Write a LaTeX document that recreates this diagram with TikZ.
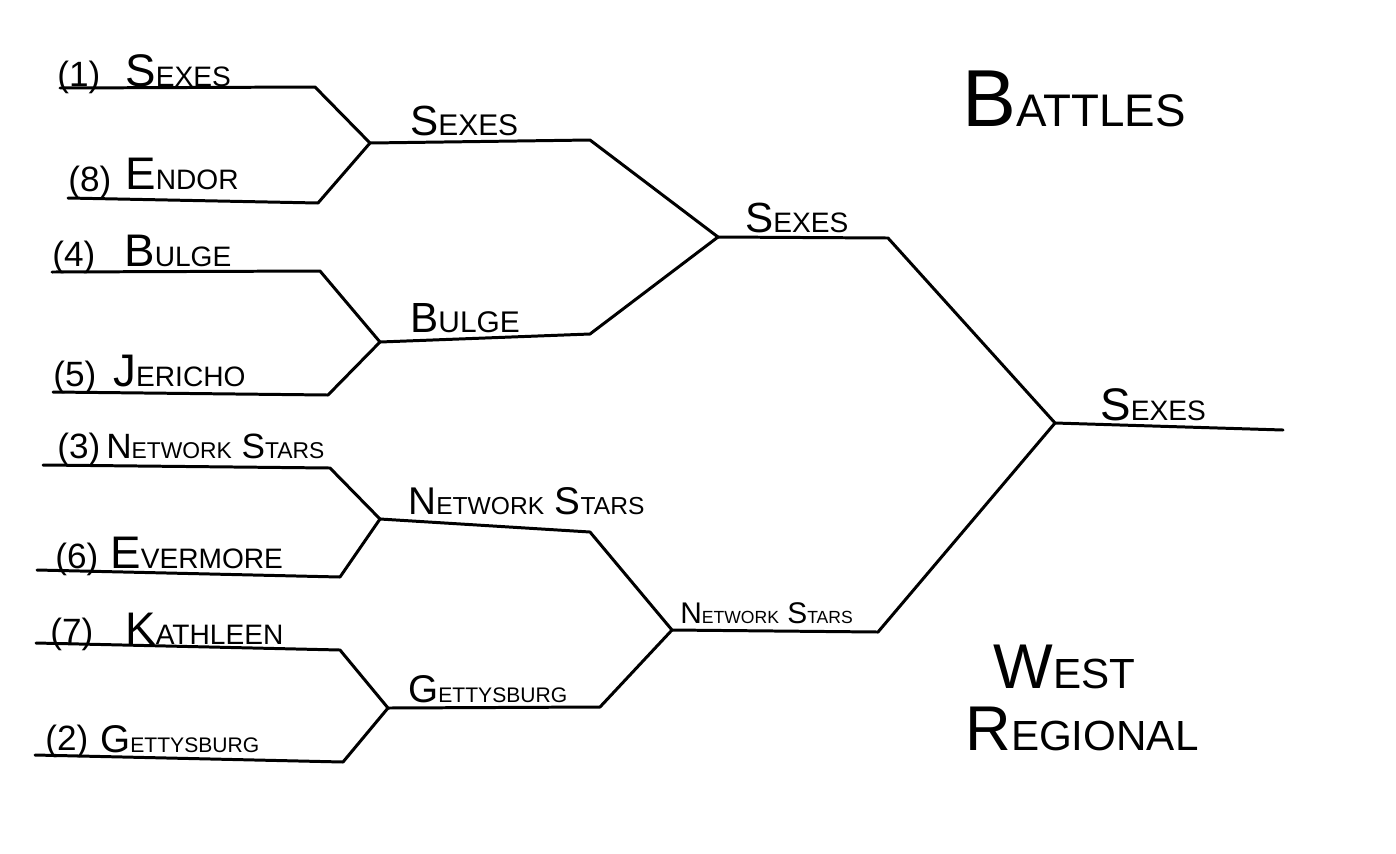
\documentclass[tikz,border=0pt]{standalone}
\usepackage{fontspec}
\setmainfont{Liberation Sans}
\tikzset{
 bracket/.style={line width=1.7pt, line cap=round, line join=round},
 seed/.style={anchor=base west, inner sep=0pt, font=\fontsize{20}{20}\selectfont},
 lab/.style 2 args={anchor=base west, inner sep=0pt,
  font=\fontsize{#1}{#1}\selectfont\def\lowsz{\fontsize{#2}{#2}\selectfont}},
 team/.style={lab={26}{16}},
 winner/.style={lab={24}{17}}
}
\newcommand{\hw}[2]{#1{\lowsz #2}}

\begin{document}
\begin{tikzpicture}[x=0.02cm, y=-0.02cm]
\useasboundingbox (0,0) rectangle (1396,853);

\begin{scope} %1-8
 \coordinate (a1) at (60,88);  \coordinate (b1) at (315,87);
 \coordinate (a8) at (68,198); \coordinate (b8) at (318,203);
 \coordinate (j18) at (370,143);
 \draw[bracket] (a1) -- (b1) -- (j18) -- (b8) -- (a8);
 \node[seed] (p1) at (57,86) {(1)};
 \node[team] (t1) at (125,86) {\hw{S}{EXES}};
 \node[seed] (p8) at (68,191) {(8)};
 \node[team] (t8) at (125,189) {\hw{E}{NDOR}};
\end{scope}

\begin{scope} %4-5
 \coordinate (a4) at (52,272); \coordinate (b4) at (320,271);
 \coordinate (a5) at (53,392); \coordinate (b5) at (328,395);
 \coordinate (j45) at (380,342);
 \draw[bracket] (a4) -- (b4) -- (j45) -- (b5) -- (a5);
 \node[seed] (p4) at (52,266) {(4)};
 \node[team] (t4) at (124,266) {\hw{B}{ULGE}};
 \node[seed] (p5) at (53,386) {(5)};
 \node[team] (t5) at (113,386) {\hw{J}{ERICHO}};
\end{scope}

\begin{scope} %3-6
 \coordinate (a3) at (43,465); \coordinate (b3) at (330,468);
 \coordinate (a6) at (37,570); \coordinate (b6) at (340,577);
 \coordinate (j36) at (380,519);
 \draw[bracket] (a3) -- (b3) -- (j36) -- (b6) -- (a6);
 \node[seed] (p3) at (57,458) {(3)};
 \node[lab={20}{13}] (t3) at (106,458) {\hw{N}{ETWORK} \hw{S}{TARS}};
 \node[seed] (p6) at (55,568) {(6)};
 \node[team] (t6) at (110,568) {\hw{E}{VERMORE}};
\end{scope}

\begin{scope} %7-2
 \coordinate (a7) at (36,643); \coordinate (b7) at (340,650);
 \coordinate (a2) at (35,755); \coordinate (b2) at (343,762);
 \coordinate (j72) at (388,708);
 \draw[bracket] (a7) -- (b7) -- (j72) -- (b2) -- (a2);
 \node[seed] (p7) at (50,643) {(7)};
 \node[team] (t7) at (125,644) {\hw{K}{ATHLEEN}};
 \node[seed] (p2) at (45,750) {(2)};
 \node[lab={22}{12}] (t2) at (100,752) {\hw{G}{ETTYSBURG}};
\end{scope}

\begin{scope} %second round
 \coordinate (c18) at (590,140); \coordinate (c45) at (590,334);
 \coordinate (c36) at (590,532); \coordinate (c72) at (600,707);
 \coordinate (k1) at (718,237);  \coordinate (k2) at (672,630);
 \draw[bracket] (j18) -- (c18) -- (k1) -- (c45) -- (j45);
 \draw[bracket] (j36) -- (c36) -- (k2) -- (c72) -- (j72);
 \node[winner] (w1) at (410,135) {\hw{S}{EXES}};
 \node[winner] (w2) at (410,332) {\hw{B}{ULGE}};
 \node[lab={22}{14}] (w3) at (408,514) {\hw{N}{ETWORK} \hw{S}{TARS}};
 \node[lab={22}{12}] (w4) at (408,702) {\hw{G}{ETTYSBURG}};
\end{scope}

\begin{scope} %third round and final
 \coordinate (d1) at (888,238); \coordinate (d2) at (878,632);
 \coordinate (f) at (1055,423); \coordinate (e) at (1283,430);
 \draw[bracket] (k1) -- (d1) -- (f) -- (d2) -- (k2);
 \draw[bracket] (f) -- (e);
 \node[lab={24}{16}] (v1) at (745,232) {\hw{S}{EXES}};
 \node[lab={17}{10}] (v2) at (680,623) {\hw{N}{ETWORK} \hw{S}{TARS}};
 \node[team] (champ) at (1100,420) {\hw{S}{EXES}};
\end{scope}

%titles
\node[lab={46}{26}] (battles) at (962,126) {\hw{B}{ATTLES}};
\node[lab={36}{24}] (west) at (993,688) {\hw{W}{EST}};
\node[lab={36}{24}] (region) at (965,750) {\hw{R}{EGIONAL}};

\end{tikzpicture}
\end{document}
